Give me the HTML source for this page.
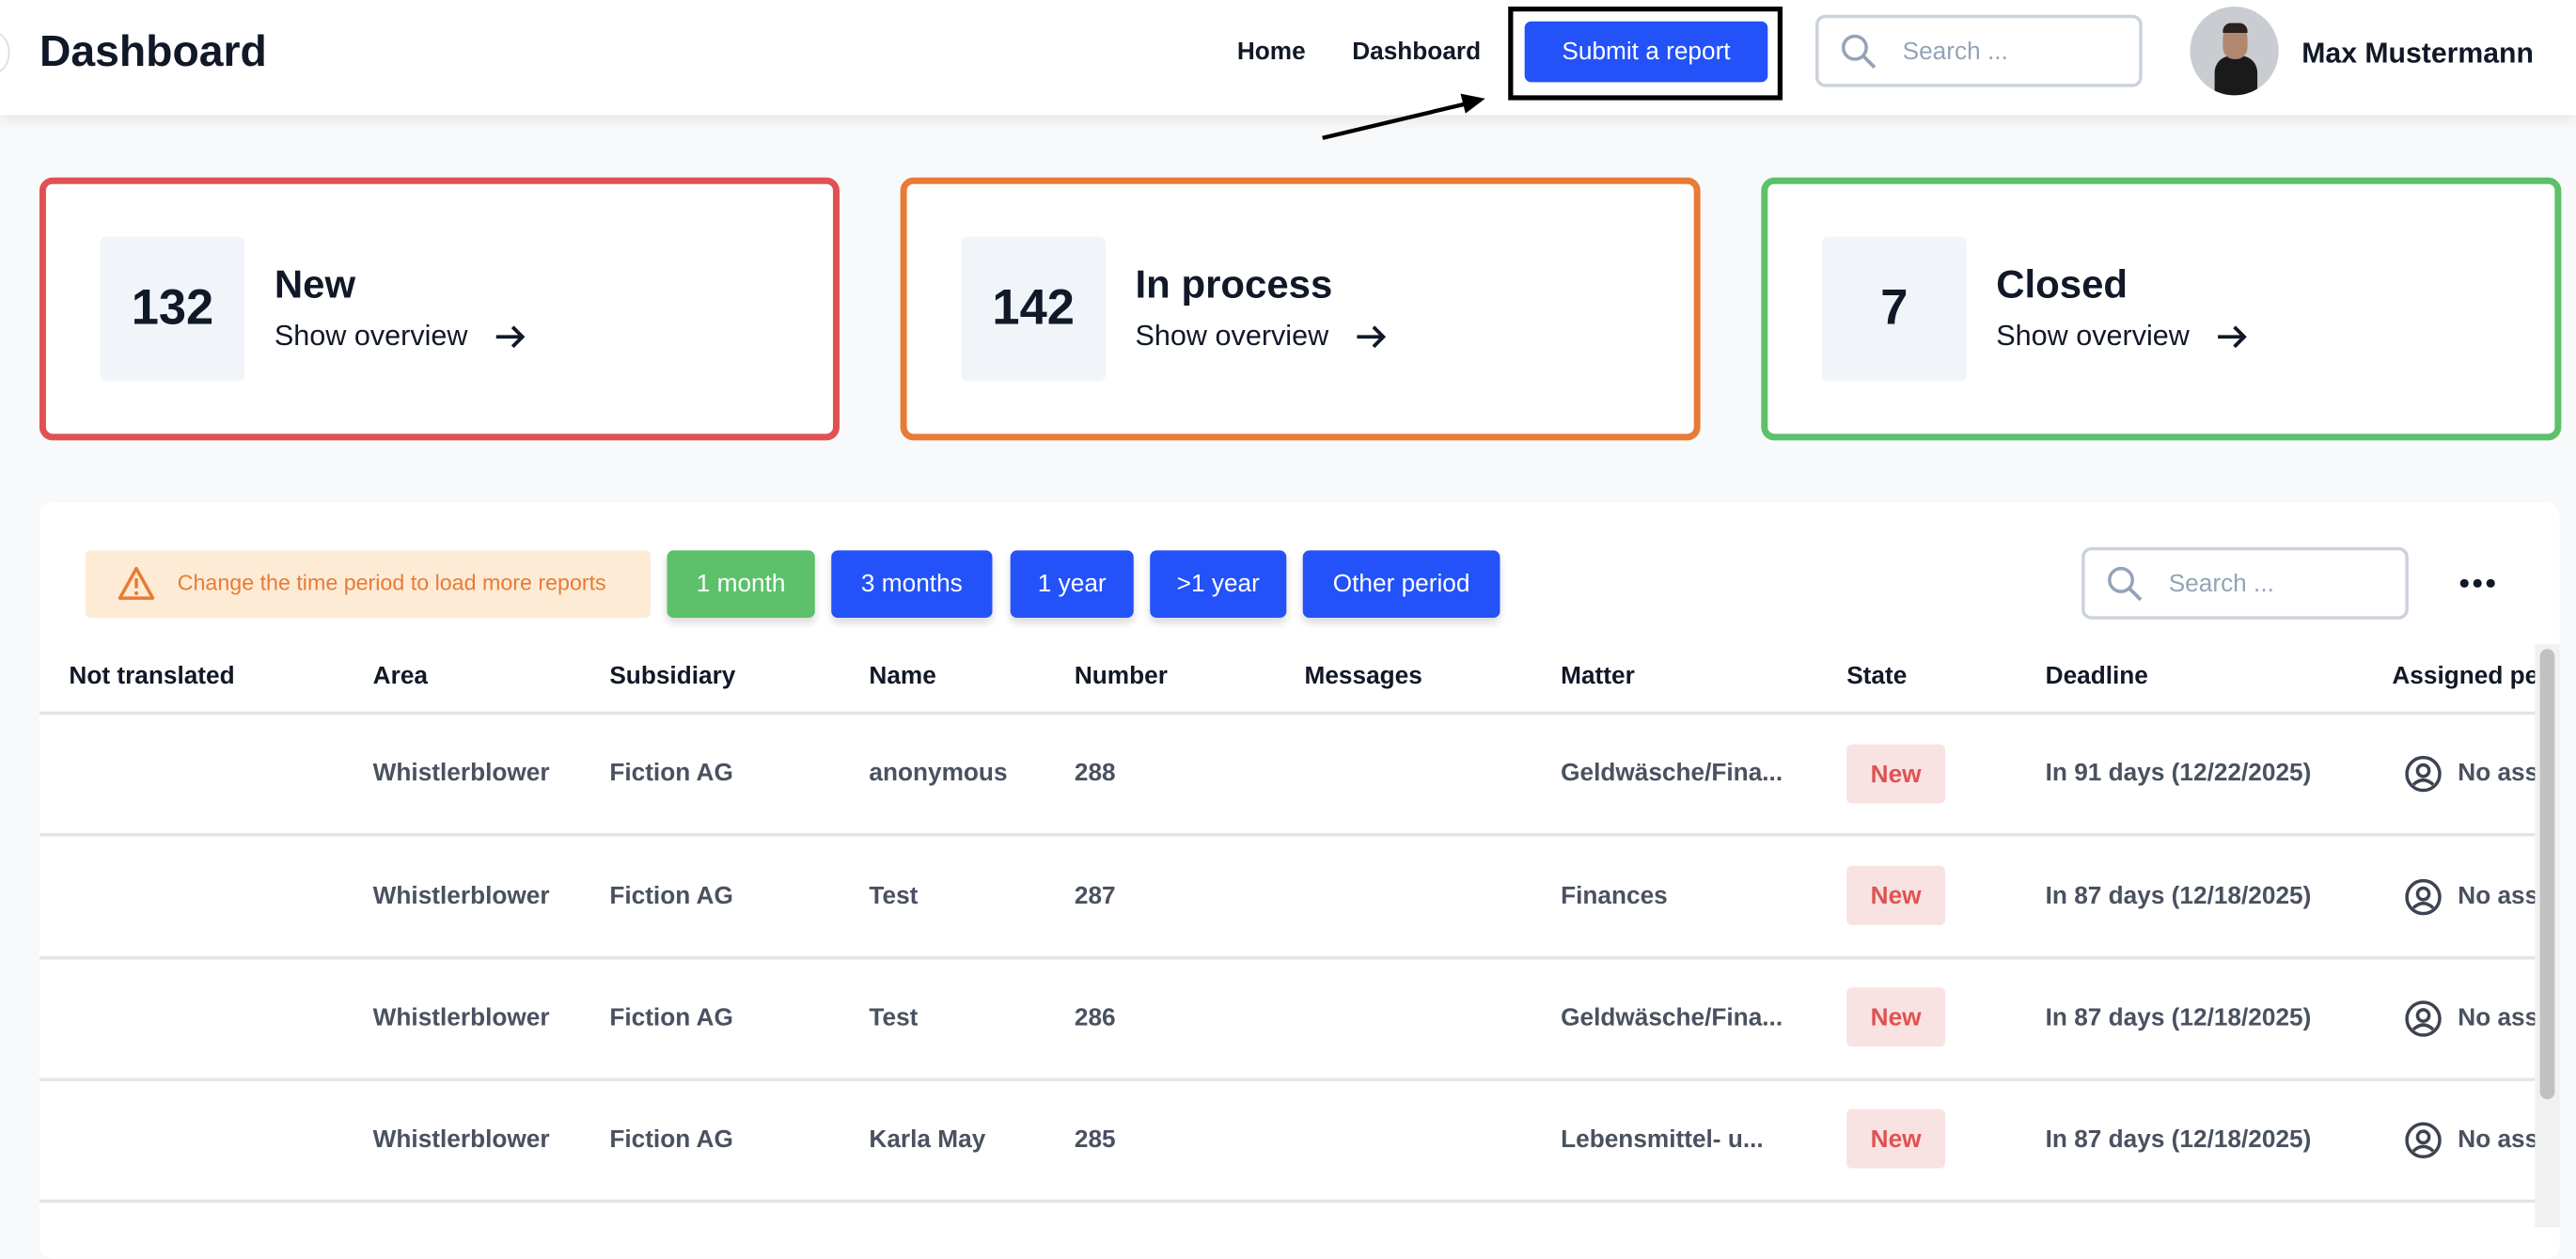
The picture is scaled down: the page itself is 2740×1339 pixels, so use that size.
<!DOCTYPE html>
<html><head><meta charset="utf-8"><style>
*{box-sizing:border-box;margin:0;padding:0}
html,body{width:2740px;height:1306px;overflow:hidden;background:#f8f9fb}
#s{position:absolute;left:0;top:0;width:1568px;height:747px;transform:scale(1.7475);transform-origin:0 0;font-family:"Liberation Sans",sans-serif;color:#111827}
.a{position:absolute;white-space:nowrap}
.hdr{left:0;top:0;width:1568px;height:70px;background:#fff;box-shadow:0 3px 8px rgba(0,0,0,.08)}
.card{top:108px;width:487px;height:160px;border:4px solid;border-radius:8px;background:#fff}
.num{position:absolute;left:33px;top:32px;width:88px;height:88px;background:#f1f4f9;border-radius:4px;font-size:30px;font-weight:bold;display:flex;align-items:center;justify-content:center}
.tt{position:absolute;left:139px;top:48px;font-size:24px;font-weight:bold}
.so{position:absolute;left:139px;top:82px;font-size:17.5px}
.so svg{position:absolute;left:134px;top:3px}
.btn{top:335px;height:41px;border-radius:4px;color:#fff;font-size:15px;display:flex;align-items:center;justify-content:center;box-shadow:0 3px 5px rgba(0,0,0,.15)}
.th{top:403px;font-size:15px;font-weight:bold}
.td{font-size:15px;font-weight:bold;color:#4a5160}
.ln{left:24px;width:1519px;height:1.5px;background:#e3e5e8}
.badge{width:60px;height:36px;background:#f9e2e2;color:#e05252;border-radius:3px;font-size:15px;display:flex;align-items:center;justify-content:center;font-weight:bold}
</style></head><body><div id="s">
<div class="a hdr"></div>
<div class="a" style="left:-14px;top:19px;width:20px;height:26px;border:1px solid #ddd;border-radius:50%"></div>
<div class="a" style="left:24px;top:16px;font-size:26.5px;font-weight:bold">Dashboard</div>
<div class="a" style="left:753px;top:23px;font-size:15px;font-weight:bold">Home</div>
<div class="a" style="left:823px;top:23px;font-size:15px;font-weight:bold">Dashboard</div>
<div class="a" style="left:918px;top:4px;width:167px;height:57px;border:3px solid #000"></div>
<div class="a" style="left:928px;top:13px;width:148px;height:37px;background:#2352f9;border-radius:4px;color:#fff;font-size:15px;display:flex;align-items:center;justify-content:center">Submit a report</div>
<svg class="a" style="left:0;top:0" width="1568" height="100"><line x1="805" y1="84" x2="893" y2="63" stroke="#000" stroke-width="2.5"/><polygon points="904,60 889,57 892,69" fill="#000"/></svg>
<div class="a" style="left:1105px;top:9px;width:199px;height:44px;border:2px solid #cbd2dc;border-radius:6px"></div>
<svg class="a" style="left:1120px;top:20px" width="24" height="24"><circle cx="9" cy="9" r="7" fill="none" stroke="#94a3b8" stroke-width="2"/><line x1="14" y1="14" x2="21" y2="21" stroke="#94a3b8" stroke-width="2.2"/></svg>
<div class="a" style="left:1158px;top:23px;font-size:15px;color:#94a3b8">Search ...</div>
<div class="a" style="left:1333px;top:4px;width:54px;height:54px;border-radius:50%;background:#c9ccd1;overflow:hidden"><div style="position:absolute;left:15px;top:30px;width:26px;height:30px;background:#1a1a1a;border-radius:10px 10px 0 0"></div><div style="position:absolute;left:20px;top:12px;width:15px;height:20px;background:#b08870;border-radius:7px"></div><div style="position:absolute;left:20px;top:10px;width:15px;height:6px;background:#2a2220;border-radius:5px 5px 0 0"></div></div>
<div class="a" style="left:1401px;top:22px;font-size:17.3px;font-weight:bold">Max Mustermann</div>

<div class="a card" style="left:24px;border-color:#e05252"><div class="num">132</div><div class="tt">New</div><div class="so">Show overview<svg width="20" height="16"><path d="M1,8H17M11,2L17,8L11,14" fill="none" stroke="#111827" stroke-width="2.2"/></svg></div></div>
<div class="a card" style="left:548px;border-color:#e87b35"><div class="num">142</div><div class="tt">In process</div><div class="so">Show overview<svg width="20" height="16"><path d="M1,8H17M11,2L17,8L11,14" fill="none" stroke="#111827" stroke-width="2.2"/></svg></div></div>
<div class="a card" style="left:1072px;border-color:#5cc16a"><div class="num">7</div><div class="tt">Closed</div><div class="so">Show overview<svg width="20" height="16"><path d="M1,8H17M11,2L17,8L11,14" fill="none" stroke="#111827" stroke-width="2.2"/></svg></div></div>

<div class="a" style="left:24px;top:306px;width:1534px;height:460px;background:#fff;border-radius:8px"></div>
<div class="a" style="left:52px;top:335px;width:344px;height:41px;background:#fdebd6;border-radius:3px"></div>
<svg class="a" style="left:71px;top:344px" width="24" height="22"><polygon points="12,2 22,20 2,20" fill="none" stroke="#e87b35" stroke-width="2" stroke-linejoin="round"/><line x1="12" y1="8" x2="12" y2="14" stroke="#e87b35" stroke-width="2"/><circle cx="12" cy="17" r="1.2" fill="#e87b35"/></svg>
<div class="a" style="left:108px;top:347px;font-size:13.3px;color:#e87b35">Change the time period to load more reports</div>
<div class="a btn" style="left:406px;width:90px;background:#5cc16a">1 month</div>
<div class="a btn" style="left:506px;width:98px;background:#2352f9">3 months</div>
<div class="a btn" style="left:615px;width:75px;background:#2352f9">1 year</div>
<div class="a btn" style="left:700px;width:83px;background:#2352f9">&gt;1 year</div>
<div class="a btn" style="left:793px;width:120px;background:#2352f9">Other period</div>
<div class="a" style="left:1267px;top:333px;width:199px;height:44px;border:2px solid #cbd2dc;border-radius:6px"></div>
<svg class="a" style="left:1282px;top:344px" width="24" height="24"><circle cx="9" cy="9" r="7" fill="none" stroke="#94a3b8" stroke-width="2"/><line x1="14" y1="14" x2="21" y2="21" stroke="#94a3b8" stroke-width="2.2"/></svg>
<div class="a" style="left:1320px;top:347px;font-size:15px;color:#94a3b8">Search ...</div>
<svg class="a" style="left:1496px;top:350px" width="24" height="10"><circle cx="4" cy="5" r="2.6" fill="#111827"/><circle cx="12" cy="5" r="2.6" fill="#111827"/><circle cx="20" cy="5" r="2.6" fill="#111827"/></svg>

<div style="position:absolute;left:0;top:0;width:1543px;height:747px;overflow:hidden">
<div class="a th" style="left:42px">Not translated</div>
<div class="a th" style="left:227px">Area</div>
<div class="a th" style="left:371px">Subsidiary</div>
<div class="a th" style="left:529px">Name</div>
<div class="a th" style="left:654px">Number</div>
<div class="a th" style="left:794px">Messages</div>
<div class="a th" style="left:950px">Matter</div>
<div class="a th" style="left:1124px">State</div>
<div class="a th" style="left:1245px">Deadline</div>
<div class="a th" style="left:1456px">Assigned person</div>
<div class="a ln" style="top:433px"></div>
<div class="a ln" style="top:507px"></div>
<div class="a ln" style="top:582px"></div>
<div class="a ln" style="top:656px"></div>
<div class="a ln" style="top:730px"></div>

<div class="a td" style="left:227px;top:462px">Whistlerblower</div><div class="a td" style="left:371px;top:462px">Fiction AG</div><div class="a td" style="left:529px;top:462px">anonymous</div><div class="a td" style="left:654px;top:462px">288</div><div class="a td" style="left:950px;top:462px">Geldwäsche/Fina...</div><div class="a badge" style="left:1124px;top:453px">New</div><div class="a td" style="left:1245px;top:462px">In 91 days (12/22/2025)</div>
<div class="a td" style="left:227px;top:537px">Whistlerblower</div><div class="a td" style="left:371px;top:537px">Fiction AG</div><div class="a td" style="left:529px;top:537px">Test</div><div class="a td" style="left:654px;top:537px">287</div><div class="a td" style="left:950px;top:537px">Finances</div><div class="a badge" style="left:1124px;top:527px">New</div><div class="a td" style="left:1245px;top:537px">In 87 days (12/18/2025)</div>
<div class="a td" style="left:227px;top:611px">Whistlerblower</div><div class="a td" style="left:371px;top:611px">Fiction AG</div><div class="a td" style="left:529px;top:611px">Test</div><div class="a td" style="left:654px;top:611px">286</div><div class="a td" style="left:950px;top:611px">Geldwäsche/Fina...</div><div class="a badge" style="left:1124px;top:601px">New</div><div class="a td" style="left:1245px;top:611px">In 87 days (12/18/2025)</div>
<div class="a td" style="left:227px;top:685px">Whistlerblower</div><div class="a td" style="left:371px;top:685px">Fiction AG</div><div class="a td" style="left:529px;top:685px">Karla May</div><div class="a td" style="left:654px;top:685px">285</div><div class="a td" style="left:950px;top:685px">Lebensmittel- u...</div><div class="a badge" style="left:1124px;top:675px">New</div><div class="a td" style="left:1245px;top:685px">In 87 days (12/18/2025)</div>

<svg class="a" style="left:1463px;top:459px" width="24" height="24"><circle cx="12" cy="12" r="10" fill="none" stroke="#3d4350" stroke-width="2"/><circle cx="12" cy="10" r="3.5" fill="none" stroke="#3d4350" stroke-width="2"/><path d="M6,18.5 Q12,13 18,18.5" fill="none" stroke="#3d4350" stroke-width="2"/></svg>
<div class="a td" style="left:1496px;top:462px">No assigned</div>
<svg class="a" style="left:1463px;top:534px" width="24" height="24"><circle cx="12" cy="12" r="10" fill="none" stroke="#3d4350" stroke-width="2"/><circle cx="12" cy="10" r="3.5" fill="none" stroke="#3d4350" stroke-width="2"/><path d="M6,18.5 Q12,13 18,18.5" fill="none" stroke="#3d4350" stroke-width="2"/></svg>
<div class="a td" style="left:1496px;top:537px">No assigned</div>
<svg class="a" style="left:1463px;top:608px" width="24" height="24"><circle cx="12" cy="12" r="10" fill="none" stroke="#3d4350" stroke-width="2"/><circle cx="12" cy="10" r="3.5" fill="none" stroke="#3d4350" stroke-width="2"/><path d="M6,18.5 Q12,13 18,18.5" fill="none" stroke="#3d4350" stroke-width="2"/></svg>
<div class="a td" style="left:1496px;top:611px">No assigned</div>
<svg class="a" style="left:1463px;top:682px" width="24" height="24"><circle cx="12" cy="12" r="10" fill="none" stroke="#3d4350" stroke-width="2"/><circle cx="12" cy="10" r="3.5" fill="none" stroke="#3d4350" stroke-width="2"/><path d="M6,18.5 Q12,13 18,18.5" fill="none" stroke="#3d4350" stroke-width="2"/></svg>
<div class="a td" style="left:1496px;top:685px">No assigned</div>
</div>
<div class="a" style="left:1543px;top:392px;width:15px;height:355px;background:#f1f1f1"></div>
<div class="a" style="left:1546px;top:395px;width:9px;height:274px;background:#c1c1c1;border-radius:5px"></div>
</div></body></html>
